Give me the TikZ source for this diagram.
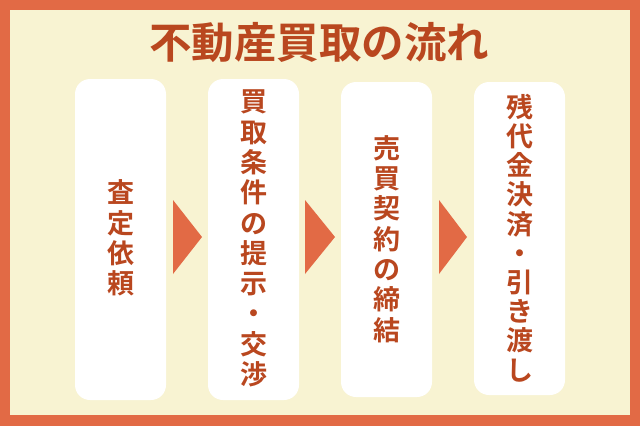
\documentclass[tikz,border=0pt]{standalone}
\usepackage{fontspec}
\newfontfamily\cjk{Noto Sans CJK JP}[BoldFont={* Bold}]
\definecolor{frameor}{HTML}{E26A45}
\definecolor{creamy}{HTML}{F8F3D2}
\definecolor{txtbrown}{HTML}{B9471F}
\tikzset{
  stepbox/.style={fill=white, rounded corners=15pt},
  steptext/.style={text=txtbrown, align=center, inner sep=0pt,
    font=\cjk\bfseries\fontsize{27}{30.3}\selectfont},
  arrowtri/.style={fill=frameor},
}
\begin{document}
\begin{tikzpicture}[x=1pt,y=-1pt]
\useasboundingbox (0,0) rectangle (640,426);
\fill[frameor] (0,0) rectangle (640,426);
\fill[creamy] (10,10) rectangle (630,415);
\node[text=txtbrown, inner sep=0pt, font=\cjk\bfseries\fontsize{42.5}{44}\selectfont] (title) at (319,42) {不動産買取の流れ};
\fill[stepbox] (75,79) rectangle (166,400);
\fill[stepbox] (208,79) rectangle (299,400);
\fill[stepbox] (341,82) rectangle (432,397);
\fill[stepbox] (474,82) rectangle (565,395);
\node[steptext] (s1) at (120.5,238) {査\\定\\依\\頼};
\node[steptext] (s2) at (254,238.5) {買\\取\\条\\件\\の\\提\\示\\・\\交\\渉};
\node[steptext] (s3) at (387,239) {売\\買\\契\\約\\の\\締\\結};
\node[steptext, font=\cjk\bfseries\fontsize{27}{29.2}\selectfont] (s4) at (519.5,238) {残\\代\\金\\決\\済\\・\\引\\き\\渡\\し};
\fill[arrowtri] (173,200) -- (173,274) -- (202,237) -- cycle;
\fill[arrowtri] (305,200) -- (305,274) -- (335,237) -- cycle;
\fill[arrowtri] (439,200) -- (439,274) -- (467,237) -- cycle;
\end{tikzpicture}
\end{document}
